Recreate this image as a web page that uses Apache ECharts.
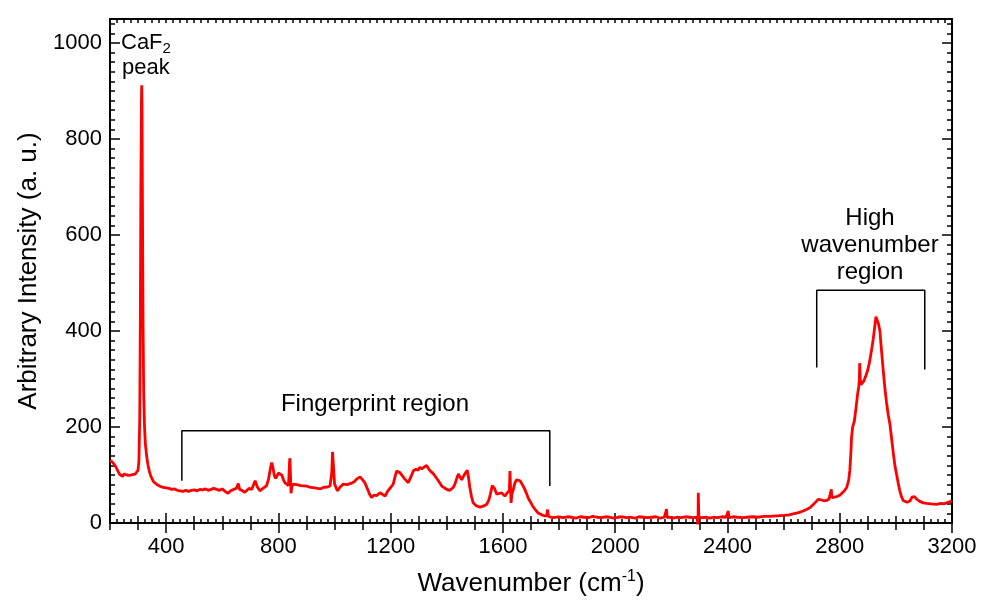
<!DOCTYPE html>
<html><head><meta charset="utf-8">
<script src="https://cdn.jsdelivr.net/npm/echarts@6/dist/echarts.min.js"></script>
<style>html,body{margin:0;padding:0;background:#fff}#c{width:982px;height:604px}</style>
</head><body><div id="c"></div>
<script>
// ---- data ----
const wavenumber = [
200,205,210,215,220,225,230,235,240,245,250,255,260,265,270,275,280,285,290,295,
300,303,306,308,310,312,313,314,316,318,320,323,326,330,335,340,345,350,355,360,
370,380,390,400,410,420,430,440,450,460,470,480,490,500,510,520,530,540,550,560,
570,580,590,600,610,620,630,640,650,657,662,670,680,687,695,705,717,725,734,745,
758,765,772,776,780,785,790,795,800,806,812,818,823,830,836,840,841,843,845,848,
853,865,880,900,915,930,948,960,975,984,990,993,996,1000,1005,1010,1020,1031,1045,1060,
1070,1080,1091,1100,1108,1118,1125,1132,1140,1150,1162,1170,1180,1190,1200,1209,1215,1221,1227,1233,
1239,1250,1263,1272,1281,1290,1298,1304,1312,1320,1328,1334,1340,1350,1358,1370,1382,1392,1400,1410,
1417,1423,1429,1435,1441,1447,1453,1460,1467,1473,1478,1482,1488,1494,1505,1518,1530,1542,1550,1556,
1562,1566,1570,1578,1585,1595,1602,1607,1613,1619,1623,1625,1627,1629,1632,1637,1643,1649,1655,1661,
1667,1673,1678,1685,1690,1696,1705,1714,1725,1738,1748,1756,1759,1762,1770,1779,1790,1800,1815,1830,
1845,1860,1875,1890,1905,1920,1935,1950,1965,1980,1995,2010,2025,2040,2055,2070,2085,2100,2115,2130,
2145,2160,2175,2181,2183,2185,2195,2206,2220,2235,2250,2265,2280,2292,2295,2296,2298,2310,2325,2337,
2350,2365,2380,2395,2401,2403,2405,2420,2435,2456,2470,2490,2510,2530,2550,2575,2600,2620,2634,2650,
2670,2685,2694,2705,2715,2723,2735,2745,2753,2762,2768,2770,2772,2777,2790,2800,2807,2815,2825,2832,
2836,2840,2842,2846,2852,2858,2864,2868,2870,2871,2873,2876,2880,2886,2892,2898,2905,2912,2919,2925,
2929,2931,2934,2938,2943,2948,2955,2961,2967,2973,2979,2985,2991,2997,3003,3008,3014,3020,3026,3032,
3040,3050,3058,3062,3066,3074,3085,3098,3110,3125,3145,3160,3172,3181,3192,3200
];
const intensity = [
131,129,126,122,118,112,106,101,99,97,102,104,100,102,99,103,101,104,102,105,
110,130,220,420,700,880,912,870,620,400,270,200,165,142,122,108,98,92,86,83,
79,76,74,73,72,70,71,68,67,66,68,66,68,69,67,70,69,71,68,70,
72,70,68,71,66,62,67,70,72,82,70,68,64,60,72,70,88,75,67,72,
78,92,115,126,118,100,93,98,104,106,100,90,84,80,78,130,135,100,62,76,
81,80,78,77,74,73,71,74,75,77,105,148,120,82,78,67,75,81,80,83,
86,92,96,90,84,70,60,53,58,57,63,60,56,67,74,81,95,108,110,105,
104,92,84,96,109,112,110,116,113,117,120,114,109,104,98,88,77,73,70,68,
66,74,81,92,102,96,90,98,105,110,92,74,55,42,36,33,35,39,48,62,
78,82,72,60,62,63,60,56,61,63,68,108,75,42,60,70,84,90,89,88,
82,76,70,60,52,46,36,29,21,17,15,15,28,14,12,11,12,13,11,13,
12,10,13,12,11,14,12,11,13,12,10,12,13,11,12,10,13,12,11,12,
13,10,12,12,29,11,12,10,12,11,13,12,11,12,-8,63,12,11,12,10,
12,11,13,12,12,25,11,13,12,11,12,13,12,14,14,15,16,17,19,21,
25,29,32,38,44,49,48,46,47,50,52,70,53,51,55,58,61,66,74,90,
110,150,178,200,212,240,270,285,300,333,300,288,290,296,305,315,332,355,382,410,
430,434,428,415,400,365,318,280,250,225,205,175,145,118,100,84,67,55,47,43,
43,46,54,58,55,50,45,42,41,40,39,41,40,42,44,47
];
const xMajorTicks = [400, 800, 1200, 1600, 2000, 2400, 2800, 3200];
const yMajorTicks = [0, 200, 400, 600, 800, 1000];
// bracket annotations (wavenumber, intensity)
const fingerprintBracketX = [456, 456, 1767, 1767];
const fingerprintBracketY = [88, 192, 192, 77];
const highBracketX = [2718, 2718, 3103, 3103];
const highBracketY = [324, 485, 485, 320];

const X_MIN = 200, X_MAX = 3200, Y_MIN = 0, Y_MAX = 1050;
const FONT = '"Liberation Sans", Arial, Helvetica, sans-serif';

const spectrum = wavenumber.map((w, i) => [w, intensity[i]]);
const fpBracket = fingerprintBracketX.map((w, i) => [w, fingerprintBracketY[i]]);
const hiBracket = highBracketX.map((w, i) => [w, highBracketY[i]]);

const tickStyle = { color: '#000', width: 1.5 };
function mkX(position, interval, len, extra) {
  return Object.assign({
    type: 'value', position, min: X_MIN, max: X_MAX, interval,
    axisLine: { show: false }, splitLine: { show: false },
    axisTick: { show: true, inside: true, length: len, lineStyle: tickStyle },
    axisLabel: { show: false }
  }, extra || {});
}
function mkY(position, interval, len, extra) {
  return Object.assign({
    type: 'value', position, min: Y_MIN, max: Y_MAX, interval,
    axisLine: { show: false }, splitLine: { show: false },
    axisTick: { show: true, inside: true, length: len, lineStyle: tickStyle },
    axisLabel: { show: false }
  }, extra || {});
}
const frameLine = { show: true, onZero: false, lineStyle: { color: '#000', width: 2 } };

const xAxes = [
  mkX('bottom', 25, 4, {
    axisLine: frameLine,
    name: '{a|Wavenumber (cm}{s|-1}{a|)}', nameLocation: 'middle', nameGap: 46,
    nameTextStyle: { rich: {
      a: { fontSize: 26, fontFamily: FONT, color: '#000', lineHeight: 30 },
      s: { fontSize: 16, fontFamily: FONT, color: '#000', lineHeight: 14, verticalAlign: 'top' }
    } }
  }),
  mkX('bottom', 100, 7),
  mkX('bottom', 100, 10, {
    axisTick: { show: true, inside: true, length: 10, lineStyle: tickStyle, customValues: xMajorTicks },
    axisLabel: { show: true, customValues: xMajorTicks, margin: 13, fontSize: 22, fontFamily: FONT, color: '#000',
      formatter: v => (v % 400 === 0 ? String(v) : '') }
  }),
  mkX('top', 25, 4, { axisLine: frameLine }),
  mkX('top', 100, 7),
  mkX('top', 100, 10, {
    axisTick: { show: true, inside: true, length: 10, lineStyle: tickStyle, customValues: xMajorTicks }
  })
];
const yAxes = [
  mkY('left', 20, 5, {
    axisLine: frameLine,
    name: 'Arbitrary Intensity (a. u.)', nameLocation: 'middle', nameGap: 68,
    nameTextStyle: { fontSize: 26, fontFamily: FONT, color: '#000' }
  }),
  mkY('left', 200, 10, {
    axisTick: { show: true, inside: true, length: 10, lineStyle: tickStyle, customValues: yMajorTicks },
    axisLabel: { show: true, customValues: yMajorTicks, margin: 8, fontSize: 22, fontFamily: FONT, color: '#000',
      formatter: v => (v % 200 === 0 && v <= 1000 ? String(v) : '') }
  }),
  mkY('right', 20, 5, { axisLine: frameLine }),
  mkY('right', 200, 10, {
    axisTick: { show: true, inside: true, length: 10, lineStyle: tickStyle, customValues: yMajorTicks }
  })
];

const chart = echarts.init(document.getElementById('c'), null, { renderer: 'canvas' });
chart.setOption({
  animation: false,
  backgroundColor: '#fff',
  grid: { left: 110, right: 30, top: 19, bottom: 81, containLabel: false },
  xAxis: xAxes,
  yAxis: yAxes,
  series: [
    { type: 'line', data: spectrum, showSymbol: false, symbol: 'none', clip: true,
      lineStyle: { color: '#ff0000', width: 2.8 }, z: 3 },
    { type: 'line', data: fpBracket, showSymbol: false, symbol: 'none',
      lineStyle: { color: '#000', width: 1.5 }, z: 2 },
    { type: 'line', data: hiBracket, showSymbol: false, symbol: 'none',
      lineStyle: { color: '#000', width: 1.5 }, z: 2 }
  ],
  graphic: [
    { type: 'text', left: 121, top: 31, style: {
      text: '{a|CaF}{s|2}', fill: '#000',
      rich: { a: { fontSize: 22, fontFamily: FONT, fill: '#000', lineHeight: 24, verticalAlign: 'top' },
              s: { fontSize: 15, fontFamily: FONT, fill: '#000', lineHeight: 24, verticalAlign: 'bottom', padding: [10, 0, 0, 0] } } } },
    { type: 'text', left: 122, top: 57, style: { text: 'peak', fontSize: 22, fontFamily: FONT, fill: '#000' } },
    { type: 'text', x: 375, y: 404, style: { text: 'Fingerprint region', fontSize: 24, fontFamily: FONT, fill: '#000',
      align: 'center', verticalAlign: 'middle' } },
    { type: 'text', x: 870, y: 245, style: { text: 'High\nwavenumber\nregion', fontSize: 24, lineHeight: 27,
      fontFamily: FONT, fill: '#000', align: 'center', verticalAlign: 'middle' } }
  ]
});
</script>
</body></html>
